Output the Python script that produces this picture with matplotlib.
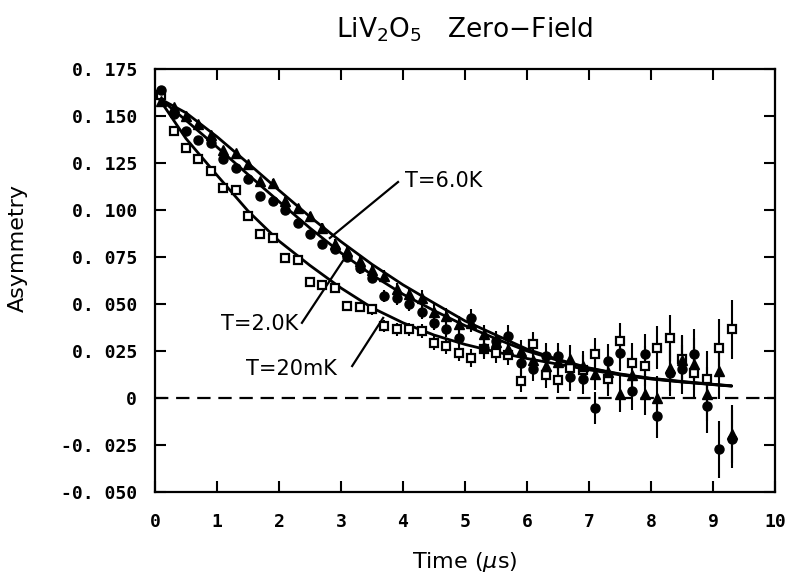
import matplotlib
matplotlib.use("Agg")
import matplotlib.pyplot as plt

# ---- data ---------------------------------------------------------------
time_us = [0.1, 0.3, 0.5, 0.7, 0.9, 1.1, 1.3, 1.5, 1.7, 1.9,
           2.1, 2.3, 2.5, 2.7, 2.9, 3.1, 3.3, 3.5, 3.7, 3.9,
           4.1, 4.3, 4.5, 4.7, 4.9, 5.1, 5.3, 5.5, 5.7, 5.9,
           6.1, 6.3, 6.5, 6.7, 6.9, 7.1, 7.3, 7.5, 7.7, 7.9,
           8.1, 8.3, 8.5, 8.7, 8.9, 9.1, 9.3]

asym_6K = [0.158, 0.155, 0.150, 0.146, 0.140, 0.132, 0.1305, 0.1243, 0.1154, 0.1146,
           0.105, 0.1013, 0.0968, 0.0906, 0.082, 0.0782, 0.0729, 0.068, 0.0649, 0.0578,
           0.0551, 0.0534, 0.046, 0.0436, 0.0392, 0.040, 0.034, 0.030, 0.026, 0.025,
           0.020, 0.017, 0.019, 0.0206, 0.017, 0.0126, 0.014, 0.002, 0.012, 0.002,
           0.000, 0.016, 0.020, 0.018, 0.002, 0.0145, -0.019]

asym_2K = [0.164, 0.151, 0.142, 0.1375, 0.1358, 0.127, 0.1225, 0.1163, 0.1074, 0.1048,
           0.100, 0.0933, 0.087, 0.0818, 0.079, 0.075, 0.069, 0.064, 0.0543, 0.053,
           0.0498, 0.046, 0.040, 0.0365, 0.032, 0.0427, 0.0268, 0.0303, 0.033, 0.0188,
           0.0152, 0.0223, 0.0223, 0.0112, 0.0103, -0.0052, 0.0197, 0.0241, 0.0037, 0.0232,
           -0.0096, 0.0133, 0.0152, 0.0232, -0.0043, -0.0273, -0.022]

asym_20mK = [0.161, 0.142, 0.133, 0.127, 0.1207, 0.1119, 0.1104, 0.0968, 0.0874, 0.0853,
             0.0746, 0.0734, 0.0617, 0.0601, 0.0585, 0.049, 0.0484, 0.0471, 0.0383, 0.0365,
             0.0365, 0.0356, 0.0294, 0.0277, 0.0241, 0.0214, 0.026, 0.0241, 0.023, 0.009,
             0.0285, 0.0122, 0.0096, 0.016, 0.015, 0.0232, 0.0103, 0.0303, 0.0188, 0.017,
             0.0268, 0.032, 0.0206, 0.0133, 0.0103, 0.0268, 0.0365]

asym_err = [0.0012, 0.0012, 0.0013, 0.0014, 0.0014, 0.0015, 0.0016, 0.0017, 0.0018, 0.0019,
            0.0020, 0.0021, 0.0023, 0.0024, 0.0025, 0.0027, 0.0028, 0.0030, 0.0032, 0.0034,
            0.0036, 0.0038, 0.0040, 0.0042, 0.0045, 0.0048, 0.0050, 0.0053, 0.0057, 0.0060,
            0.0064, 0.0068, 0.0072, 0.0076, 0.0080, 0.0085, 0.0090, 0.0096, 0.0102, 0.0108,
            0.0115, 0.0122, 0.0129, 0.0137, 0.0145, 0.0150, 0.0155]

# fitted relaxation curves
fit_t = [0.05, 0.5, 1.0, 1.5, 2.0, 2.5, 3.0, 3.5, 4.0, 4.5,
         5.0, 5.5, 6.0, 6.5, 7.0, 7.5, 8.0, 8.5, 9.0, 9.3]
fit_6K = [0.1597, 0.1517, 0.1390, 0.1249, 0.1105, 0.0964, 0.0832, 0.0711, 0.0602, 0.0505,
          0.041, 0.0335, 0.026, 0.0205, 0.016, 0.0128, 0.0105, 0.0088, 0.0073, 0.0065]
fit_2K = [0.160, 0.1477, 0.1335, 0.1189, 0.1045, 0.0904, 0.0772, 0.0655, 0.0552, 0.0465,
          0.0385, 0.0315, 0.025, 0.020, 0.0158, 0.0126, 0.0103, 0.0086, 0.0072, 0.0064]
fit_20mK = [0.160, 0.138, 0.1185, 0.0995, 0.0835, 0.0705, 0.0585, 0.048, 0.040, 0.0335,
            0.0285, 0.0245, 0.021, 0.018, 0.015, 0.0123, 0.0101, 0.0085, 0.0071, 0.0063]

x_ticks = [0, 1, 2, 3, 4, 5, 6, 7, 8, 9, 10]
y_ticks = [-0.050, -0.025, 0.0, 0.025, 0.050, 0.075, 0.100, 0.125, 0.150, 0.175]
y_tick_labels = ["-0. 050", "-0. 025", "0", "0. 025", "0. 050", "0. 075",
                 "0. 100", "0. 125", "0. 150", "0. 175"]

# ---- figure -------------------------------------------------------------
plt.rcParams["font.family"] = ["DejaVu Sans"]
fig = plt.figure(figsize=(7.86, 5.85), dpi=100)
ax = fig.add_axes([0.1972, 0.159, 0.7888, 0.723])

ax.set_xlim(0, 10)
ax.set_ylim(-0.05, 0.175)

for sp in ax.spines.values():
    sp.set_linewidth(1.6)

tick_font = dict(family="DejaVu Sans Mono", fontsize=13, fontweight="bold")
ax.set_xticks(x_ticks)
ax.set_xticklabels([str(v) for v in x_ticks], **tick_font)
ax.set_yticks(y_ticks)
ax.set_yticklabels(y_tick_labels, **tick_font)
ax.tick_params(direction="in", length=8, width=1.5, top=True, right=True)
ax.tick_params(axis="y", pad=13)
ax.tick_params(axis="x", pad=15)

# zero baseline
ax.axhline(0, color="k", lw=1.6, dashes=(6, 3.5))

err_kw = dict(ecolor="k", elinewidth=1.5, capsize=0, linestyle="none")
ax.errorbar(time_us, asym_20mK, yerr=asym_err, fmt="s", ms=5.5, mfc="white",
            mec="k", mew=1.6, **err_kw)
ax.errorbar(time_us, asym_2K, yerr=asym_err, fmt="o", ms=6.5, mfc="k",
            mec="k", **err_kw)
ax.errorbar(time_us, asym_6K, yerr=asym_err, fmt="^", ms=7, mfc="k",
            mec="k", **err_kw)

for curve in (fit_6K, fit_2K, fit_20mK):
    ax.plot(fit_t, curve, color="k", lw=2.0, solid_capstyle="round")

# labelled leaders
lbl = dict(fontsize=15, color="k", va="center")
ax.plot([2.82, 3.92], [0.0851, 0.1149], color="k", lw=1.6)
ax.text(4.03, 0.1154, "T=6.0K", ha="left", **lbl)
ax.plot([2.37, 3.03], [0.040, 0.0729], color="k", lw=1.6)
ax.text(2.31, 0.0394, "T=2.0K", ha="right", **lbl)
ax.plot([3.18, 3.68], [0.017, 0.0426], color="k", lw=1.6)
ax.text(2.94, 0.0154, "T=20mK", ha="right", **lbl)

ax.set_xlabel(r"Time ($\mu$s)", fontsize=16, labelpad=14)
ax.set_ylabel("Asymmetry", fontsize=16)
ax.yaxis.set_label_coords(-0.205, 0.577)

fig.text(465 / 786, 1 - 30 / 585, "LiV$_2$O$_5$   Zero\u2212Field",
         ha="center", va="center", fontsize=19)

fig.savefig("out.png", dpi=100)
